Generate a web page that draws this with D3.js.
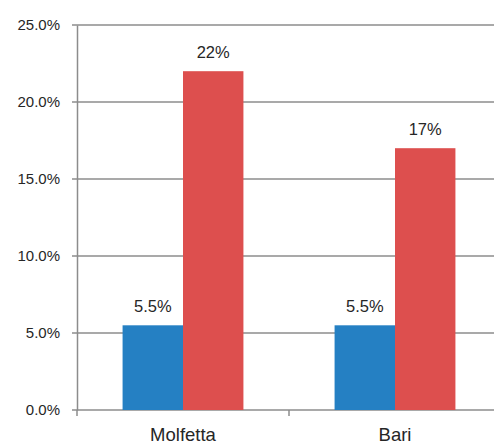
<!DOCTYPE html>
<html>
<head>
<meta charset="utf-8">
<script src="https://cdn.jsdelivr.net/npm/d3@7"></script>
<style>
  body { margin: 0; background: #fff; }
  svg { display: block; font-family: "Liberation Sans", Arial, sans-serif; }
  .value-label { fill: #262626; font-size: 16.5px; text-anchor: middle; }
</style>
</head>
<body>
<svg id="chart" width="494" height="444"></svg>
<script>
const categories = ['Molfetta', 'Bari'];
const series = ['a', 'b'];
const seriesA = [5.5, 5.5];
const seriesB = [22, 17];
const valueLabels = [['5.5%', '5.5%'], ['22%', '17%']];
const yTicks = [0, 5, 10, 15, 20, 25];
const colors = ['#2580c3', '#dd4f4e'];

const svg = d3.select('#chart');
const margin = { top: 25, right: -7, bottom: 34, left: 77 };
const width = 494 - margin.left - margin.right;
const height = 444 - margin.top - margin.bottom;

const g = svg.append('g').attr('transform', `translate(${margin.left},${margin.top})`);

const x = d3.scaleBand().domain(categories).range([0, width]).padding(0);
const xInner = d3.scaleBand().domain(series).range([0, x.bandwidth() * 0.57]);
const y = d3.scaleLinear().domain([0, 25]).range([height, 0]);

// gridlines
g.append('g')
    .selectAll('line')
    .data(yTicks)
    .enter().append('line')
    .attr('x1', -5).attr('x2', width)
    .attr('y1', d => y(d)).attr('y2', d => y(d))
    .attr('stroke', '#8c8c8c').attr('stroke-width', 1.5);

// y axis
const yAxis = g.append('g').attr('class', 'y-axis')
    .call(d3.axisLeft(y).tickValues(yTicks).tickFormat(d => d.toFixed(1) + '%').tickSize(0).tickPadding(17));
yAxis.attr('font-size', null).attr('font-family', null);
yAxis.selectAll('.tick text').style('font-size', '15px').style('fill', '#262626');
yAxis.select('.domain').attr('stroke', '#8c8c8c').attr('stroke-width', 1.5);

// x axis
const xAxis = g.append('g').attr('class', 'x-axis').attr('transform', `translate(0,${height})`)
    .call(d3.axisBottom(x).tickSize(0).tickPadding(18));
xAxis.attr('font-size', null).attr('font-family', null);
xAxis.selectAll('.tick text').style('font-size', '18.5px').style('fill', '#262626');
xAxis.select('.domain').remove();
g.append('g').selectAll('line')
    .data([0, x.bandwidth(), width])
    .enter().append('line')
    .attr('x1', d => d).attr('x2', d => d)
    .attr('y1', height).attr('y2', height + 6)
    .attr('stroke', '#8c8c8c').attr('stroke-width', 1.5);

// bars
const allSeries = [seriesA, seriesB];
const offset = (x.bandwidth() - xInner.range()[1]) / 2;
allSeries.forEach((vals, si) => {
    g.append('g').selectAll('rect')
        .data(vals)
        .enter().append('rect')
        .attr('x', (d, i) => x(categories[i]) + offset + xInner(series[si]))
        .attr('width', xInner.bandwidth())
        .attr('y', d => y(d))
        .attr('height', d => height - y(d))
        .attr('fill', colors[si]);

    g.append('g').selectAll('text')
        .data(vals)
        .enter().append('text')
        .attr('class', 'value-label')
        .attr('x', (d, i) => x(categories[i]) + offset + xInner(series[si]) + xInner.bandwidth() / 2)
        .attr('y', d => y(d) - 13)
        .text((d, i) => valueLabels[si][i]);
});
</script>
</body>
</html>
